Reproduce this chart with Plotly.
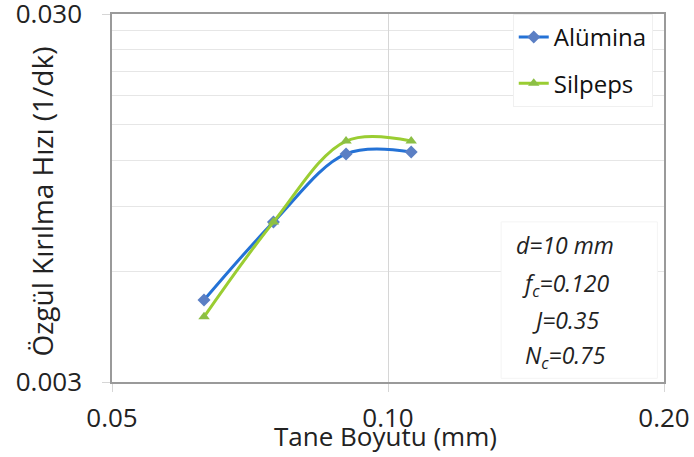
import math
import plotly.graph_objects as go

# Data
grain_size = [0.063, 0.075, 0.090, 0.106]
alumina = [0.00501, 0.00816, 0.0125, 0.01265]
silpeps = [0.00451, 0.00816, 0.01355, 0.01355]

x_ticks = [0.05, 0.10, 0.20]
x_ticktext = ["0.05", "0.10", "0.20"]
y_ticks = [0.003, 0.030]
y_ticktext = ["0.003", "0.030"]
y_minor = [0.006, 0.009, 0.012, 0.015, 0.018, 0.021, 0.024, 0.027]
params = ["d=10 mm", "f<sub>c</sub>=0.120", "J=0.35", "N<sub>c</sub>=0.75"]

FONT = "Open Sans"
EPS = 1e-6

fig = go.Figure()
fig.add_trace(go.Scatter(
    x=grain_size, y=alumina, name="Alümina", mode="lines+markers",
    line=dict(color="#2472d6", width=3, shape="spline", smoothing=1),
    marker=dict(symbol="diamond", size=10, color="#5b7fc4"),
    legendgroup="a",
))
fig.add_trace(go.Scatter(
    x=grain_size, y=silpeps, name="Silpeps", mode="lines+markers",
    line=dict(color="#9acd32", width=3, shape="spline", smoothing=1),
    marker=dict(symbol="triangle-up", size=10, color="#8cbf45"),
    legendgroup="b",
))

fig.update_layout(
    width=694, height=457,
    margin=dict(l=112, r=30, t=14, b=75, autoexpand=False),
    paper_bgcolor="white", plot_bgcolor="white",
    font=dict(family=FONT, size=25, color="#222222"),
    showlegend=True,
    legend=dict(
        x=0.726, y=1.0, xanchor="left", yanchor="top",
        bgcolor="white", bordercolor="#f0f0f0", borderwidth=1,
        font=dict(family=FONT, size=24, color="#111111"),
        traceorder="grouped", tracegroupgap=12,
        itemwidth=30,
    ),
    xaxis=dict(
        type="log", range=[math.log10(0.05) - EPS, math.log10(0.2) + EPS],
        tickvals=x_ticks, ticktext=x_ticktext,
        showgrid=True, gridcolor="#d6d6d6", gridwidth=1,
        ticks="outside", ticklen=8, tickcolor="#d6d6d6",
        showline=True, linecolor="#9a9a9a", linewidth=1.5, mirror=True,
        zeroline=False, automargin=False,
        tickfont=dict(family=FONT, size=26, color="#222222"),
        ticklabelstandoff=4,
        ticklabeloverflow="allow",
    ),
    yaxis=dict(
        type="log", range=[math.log10(0.003) - EPS, math.log10(0.03) + EPS],
        tickvals=y_ticks, ticktext=y_ticktext,
        showgrid=True, gridcolor="#d6d6d6",
        ticks="outside", ticklen=8, tickcolor="#d6d6d6",
        showline=True, linecolor="#9a9a9a", linewidth=1.5, mirror=True,
        zeroline=False, automargin=False,
        tickfont=dict(family=FONT, size=26, color="#222222"),
        ticklabelstandoff=15,
        ticklabeloverflow="allow",
        minor=dict(tickvals=y_minor, showgrid=True, gridcolor="#e6e6e6",
                   gridwidth=1, ticks=""),
    ),
)

# Axis titles as annotations (the x title overlaps the 0.10 tick label in the reference)
fig.add_annotation(
    text="Tane Boyutu (mm)", xref="paper", yref="paper",
    x=0.496, y=-0.147, xanchor="center", yanchor="middle", showarrow=False,
    font=dict(family=FONT, size=26, color="#222222"),
)
fig.add_annotation(
    text="Özgül Kırılma Hızı (1/dk)", xref="paper", yref="paper",
    x=-0.127, y=0.49, xanchor="center", yanchor="middle", showarrow=False,
    textangle=-90,
    font=dict(family=FONT, size=28, color="#222222"),
)

# Parameter box: white background then one italic line per parameter
fig.add_shape(
    type="rect", xref="paper", yref="paper",
    x0=0.705, x1=0.988, y0=0.01, y1=0.435,
    fillcolor="white", line=dict(color="#f4f4f4", width=1), layer="above",
)
line_y = [0.372, 0.266, 0.168, 0.070]
for txt, yy in zip(params, line_y):
    fig.add_annotation(
        text="<i>" + txt + "</i>", xref="paper", yref="paper",
        x=0.821, y=yy, xanchor="center", yanchor="middle", showarrow=False,
        font=dict(family=FONT, size=23, color="#222222"),
    )

fig.write_html("out.html")
